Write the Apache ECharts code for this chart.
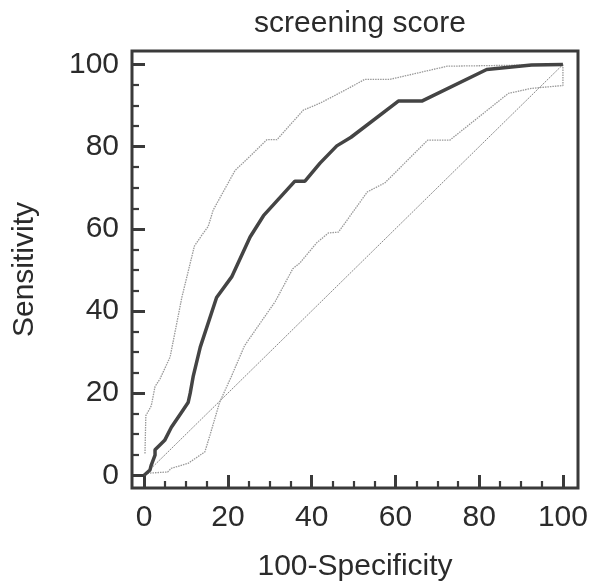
<!DOCTYPE html>
<html><head><meta charset="utf-8">
<script src="https://cdn.jsdelivr.net/npm/echarts@6/dist/echarts.min.js"></script>
<style>html,body{margin:0;padding:0;background:#fff;}#c{width:591px;height:587px;}</style>
</head><body><div id="c"></div>
<script>
const titleText = 'screening score';
const xName = '100-Specificity';
const yName = 'Sensitivity';
const majorTicks = [0, 20, 40, 60, 80, 100];
const minorTicks = [5, 10, 15, 25, 30, 35, 45, 50, 55, 65, 70, 75, 85, 90, 95];

const rocCurve = [[0,0],[1.4,1.3],[1.7,2.5],[2.6,4.9],[2.6,6.2],[3.7,7.3],[4.9,8.5],[6.5,11.7],[8.9,15.3],[10.5,17.7],[11.0,20],[11.7,24],[13.4,31.2],[17.3,43.3],[20.9,48.3],[25.3,58],[28.5,63.2],[36,71.6],[38.4,71.6],[42,76],[46,80.2],[49.4,82.3],[60.7,91.1],[66.3,91.1],[81.8,98.8],[92.5,99.9],[100,100]];
const upperCI = [[0.2,5.3],[0.4,14.5],[1.7,16.9],[2.6,21.6],[3.8,23.5],[6.2,28.8],[9,43.3],[12,55.8],[13.6,58.2],[15.3,60.6],[16.5,64.6],[21.7,74.2],[25.3,77.7],[29.3,81.7],[31.7,81.7],[38,88.9],[42,90.6],[48.4,94],[52.7,96.4],[58.7,96.4],[72.4,99.6],[100,100]];
const lowerCI = [[0.8,0.5],[5.6,0.8],[6.5,1.7],[10.5,2.9],[14.5,5.7],[15.7,9.7],[18,17.7],[20.8,24],[24,31.6],[31.3,42.3],[35.5,50.3],[37.2,51.7],[41.2,56.6],[44,59],[46.4,59.2],[53.3,69],[57.5,71.2],[67.7,81.6],[73,81.6],[87,93],[92.5,94.2],[100,94.9],[100,100]];
const diagonal = [[0,0],[100,100]];

const FONT = 'Liberation Sans, Arial, sans-serif';
const TXT = '#2b2b2b';
const FRAME = '#3a3a3a';

const chart = echarts.init(document.getElementById('c'), null, {renderer: 'canvas'});
chart.setOption({
  animation: false,
  backgroundColor: '#fff',
  title: {
    text: titleText, left: 355, top: 4, textAlign: 'center',
    textStyle: {fontFamily: FONT, fontSize: 30, fontWeight: 'normal', color: TXT}
  },
  grid: {left: 132, right: 13, top: 51, bottom: 90, show: true, borderColor: FRAME, borderWidth: 3, containLabel: false},
  xAxis: [
    {type: 'value', min: -2.9, max: 103.6, position: 'bottom',
     name: xName, nameLocation: 'middle', nameGap: 64,
     nameTextStyle: {fontFamily: FONT, fontSize: 30, color: TXT},
     axisLine: {show: false, onZero: false}, splitLine: {show: false},
     axisTick: {show: true, inside: true, length: 13, customValues: majorTicks, lineStyle: {color: FRAME, width: 3}},
     axisLabel: {show: true, customValues: majorTicks, margin: 15, fontFamily: FONT, fontSize: 30, color: TXT}},
    {type: 'value', min: -2.9, max: 103.6, position: 'bottom',
     axisLine: {show: false, onZero: false}, splitLine: {show: false},
     axisTick: {show: true, inside: true, length: 7, customValues: minorTicks, lineStyle: {color: FRAME, width: 2.2}},
     axisLabel: {show: false}}
  ],
  yAxis: [
    {type: 'value', min: -3.1, max: 103.3, position: 'left',
     name: yName, nameLocation: 'middle', nameGap: 92, nameRotate: 90,
     nameTextStyle: {fontFamily: FONT, fontSize: 30, color: TXT},
     axisLine: {show: false, onZero: false}, splitLine: {show: false},
     axisTick: {show: true, inside: true, length: 13, customValues: majorTicks, lineStyle: {color: FRAME, width: 3}},
     axisLabel: {show: true, customValues: majorTicks, margin: 13, padding: [4, 0, 0, 0], fontFamily: FONT, fontSize: 30, color: TXT}},
    {type: 'value', min: -3.1, max: 103.3, position: 'left',
     axisLine: {show: false, onZero: false}, splitLine: {show: false},
     axisTick: {show: true, inside: true, length: 7, customValues: minorTicks, lineStyle: {color: FRAME, width: 2.2}},
     axisLabel: {show: false}}
  ],
  series: [
    {type: 'line', data: diagonal, showSymbol: false, lineStyle: {color: '#8a8a8a', width: 1, type: [2, 1]}},
    {type: 'line', data: upperCI, showSymbol: false, lineStyle: {color: '#999999', width: 1.3, type: [1.5, 1]}},
    {type: 'line', data: lowerCI, showSymbol: false, lineStyle: {color: '#999999', width: 1.3, type: [1.5, 1]}},
    {type: 'line', data: rocCurve, showSymbol: false, lineStyle: {color: '#444444', width: 3.5}}
  ]
});
</script></body></html>
